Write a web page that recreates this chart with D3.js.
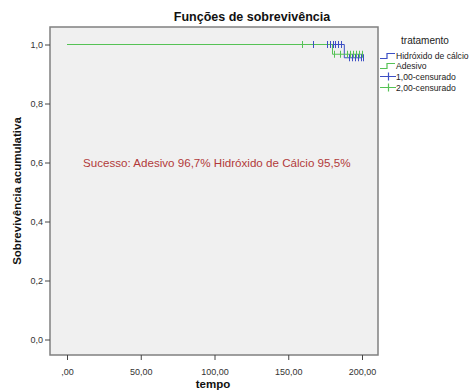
<!DOCTYPE html>
<html><head><meta charset="utf-8">
<script src="https://cdn.jsdelivr.net/npm/d3@7"></script>
<style>body{margin:0;background:#fff}svg{display:block;font-family:Arial,"Liberation Sans",sans-serif}</style>
</head><body><svg id="c" width="470" height="392"></svg>
<script>
const xTicks = [0, 50, 100, 150, 200];
const xTickLabels = [",00", "50,00", "100,00", "150,00", "200,00"];
const yTicks = [0, 0.2, 0.4, 0.6, 0.8, 1.0];
const yTickLabels = ["0,0", "0,2", "0,4", "0,6", "0,8", "1,0"];
const seriesNames = ["Hidróxido de cálcio", "Adesivo"];
// step curves: [time, survival]
const calcioSteps = [[0, 1.0], [188, 1.0], [188, 0.955], [200, 0.955]];
const adesivoSteps = [[0, 1.0], [180, 1.0], [180, 0.967], [200, 0.967]];
// censored points
const calcioCensored = [[167, 1.0], [176, 1.0], [178, 1.0], [180, 1.0], [182, 1.0], [184, 1.0], [186, 1.0], [191, 0.955], [193, 0.955], [195, 0.955], [197, 0.955], [199, 0.955], [201, 0.955]];
const adesivoCensored = [[159, 1.0], [167, 1.0], [176, 1.0], [181, 0.967], [185, 0.967], [190, 0.967], [192, 0.967], [194, 0.967], [196, 0.967], [198, 0.967], [200, 0.967]];
const legendLabels = ["Hidróxido de cálcio", "Adesivo", "1,00-censurado", "2,00-censurado"];
const annotation = "Sucesso: Adesivo 96,7% Hidróxido de Cálcio 95,5%";

const blue = "#3d4fc4", green = "#55c255";
const svg = d3.select("#c");
const L = 50, R = 378, T = 27, B = 355;
const x = d3.scaleLinear().domain([0, 200]).range([67, 362]);
const y = d3.scaleLinear().domain([0, 1]).range([339.5, 44.5]);

svg.append("rect").attr("x", L).attr("y", T).attr("width", R - L).attr("height", B - T)
  .attr("fill", "#f0f0f0").attr("stroke", "#808080").attr("stroke-width", 1.5);

// axes
const yAxis = d3.axisLeft(y).tickValues(yTicks).tickSize(5).tickFormat((d, i) => yTickLabels[i]);
const gy = svg.append("g").attr("transform", `translate(${L},0)`).call(yAxis);
gy.select(".domain").remove();
gy.selectAll("line").attr("stroke", "#444");
gy.selectAll("text").attr("font-size", 9).attr("fill", "#333").attr("dx", 1).attr("font-family", "Arial, Liberation Sans, sans-serif");

const xAxis = d3.axisBottom(x).tickValues(xTicks).tickSize(5).tickFormat((d, i) => xTickLabels[i]);
const gx = svg.append("g").attr("transform", `translate(0,${B})`).call(xAxis);
gx.select(".domain").remove();
gx.selectAll("line").attr("stroke", "#444");
gx.selectAll("text").attr("font-size", 9).attr("fill", "#333").attr("dy", "1.3em").attr("font-family", "Arial, Liberation Sans, sans-serif");

// title & labels
svg.append("text").attr("x", 252).attr("y", 21).attr("text-anchor", "middle")
  .attr("font-size", 12.5).attr("font-weight", "bold").attr("fill", "#111").text("Funções de sobrevivência");
svg.append("text").attr("x", 213).attr("y", 388).attr("text-anchor", "middle")
  .attr("font-size", 11.5).attr("font-weight", "bold").attr("fill", "#111").text("tempo");
svg.append("text").attr("transform", "translate(21,191) rotate(-90)").attr("text-anchor", "middle")
  .attr("font-size", 11.5).attr("font-weight", "bold").attr("fill", "#111").text("Sobrevivência acumulativa");

// annotation
svg.append("text").attr("x", 83).attr("y", 167).attr("font-size", 11.6).attr("fill", "#b23a3a").text(annotation);

const line = d3.line().x(d => x(d[0])).y(d => y(d[1]));
function drawPath(steps, col) {
  svg.append("path").datum(steps).attr("d", line).attr("fill", "none").attr("stroke", col).attr("stroke-width", 1);
}
function drawCens(cens, col) {
  svg.append("g").selectAll("line").data(cens).join("line")
    .attr("x1", d => Math.round(x(d[0])) + 0.5).attr("x2", d => Math.round(x(d[0])) + 0.5)
    .attr("y1", d => y(d[1]) - 3.5).attr("y2", d => y(d[1]) + 3.5)
    .attr("stroke", col).attr("stroke-width", 1);
}
drawPath(calcioSteps, blue);
drawPath(adesivoSteps, green);
drawCens(adesivoCensored, green);
drawCens(calcioCensored, blue);

// legend
const lg = svg.append("g");
lg.append("text").attr("x", 425).attr("y", 44).attr("text-anchor", "middle").attr("font-size", 10).attr("fill", "#222").text("tratamento");
const rowsY = [55, 65, 76, 87];
const cols = [blue, green, blue, green];
legendLabels.forEach((lab, i) => {
  const yy = rowsY[i] + 0.5, c = cols[i];
  if (i < 2) {
    lg.append("path").attr("d", `M380,${yy + 3}H387V${yy - 2}H395`).attr("fill", "none").attr("stroke", c).attr("stroke-width", 1.2);
  } else {
    lg.append("path").attr("d", `M380,${yy}H396M388.5,${yy - 4}V${yy + 4}`).attr("fill", "none").attr("stroke", c).attr("stroke-width", 1.2);
  }
  lg.append("text").attr("x", 396).attr("y", yy + 3).attr("font-size", 8.6).attr("fill", "#222").text(lab);
});
</script></body></html>
